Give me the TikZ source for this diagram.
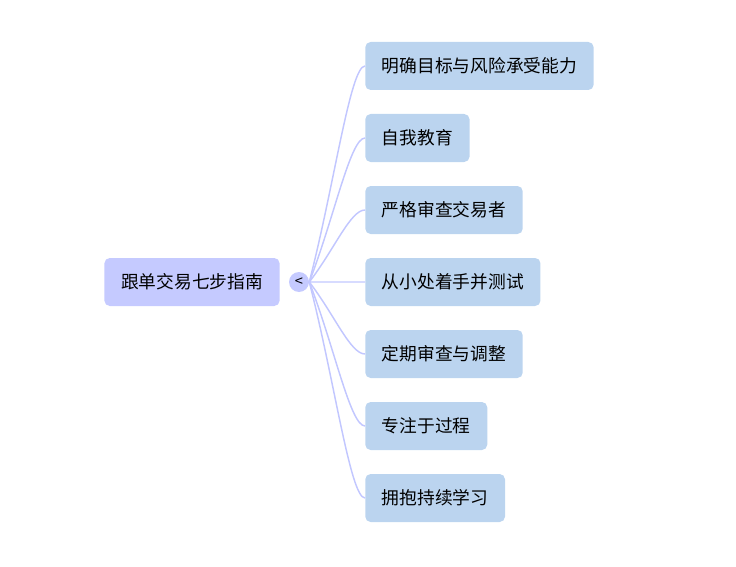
\documentclass[tikz,border=0pt]{standalone}
\usepackage{fontspec}
\setmainfont{Noto Sans CJK SC}
\usetikzlibrary{positioning,calc}
\definecolor{rootblue}{HTML}{C5CAFF}
\definecolor{leafblue}{HTML}{BBD4EF}
\definecolor{branchline}{HTML}{C2C7FF}

\begin{document}
\begin{tikzpicture}[x=0.75pt,y=-0.75pt,node distance=54pt,
    topic/.style={rounded corners=4pt,minimum height=36pt,inner xsep=12.5pt,
      font=\fontsize{13.3pt}{16pt}\selectfont},
    main/.style={topic,fill=rootblue},
    leaf/.style={topic,fill=leafblue},
    fold/.style={circle,fill=rootblue,minimum size=15pt,inner sep=0pt,
      font=\fontsize{11pt}{11pt}\selectfont},
    branch/.style={draw=branchline,line width=1.1pt}]
    \useasboundingbox (0,0) rectangle (736,567);
    \node[main] (root) at (192,282) {跟单交易七步指南};
    \node[fold] (tog) at (299,282) {<};
    \node[leaf,anchor=west] (goal) at (365,66) {明确目标与风险承受能力};
    \node[leaf,below=of goal.west,anchor=west] (edu) {自我教育};
    \node[leaf,below=of edu.west,anchor=west] (vet) {严格审查交易者};
    \node[leaf,below=of vet.west,anchor=west] (small) {从小处着手并测试};
    \node[leaf,below=of small.west,anchor=west] (review) {定期审查与调整};
    \node[leaf,below=of review.west,anchor=west] (focus) {专注于过程};
    \node[leaf,below=of focus.west,anchor=west] (learn) {拥抱持续学习};
    \foreach \n in {goal,edu,vet,small,review,focus,learn}
      \draw[branch] (tog.east) .. controls ($(tog.east)!0.45!(\n.west)$)
        and ([xshift=-11pt]\n.west) .. (\n.west);
\end{tikzpicture}
\end{document}
